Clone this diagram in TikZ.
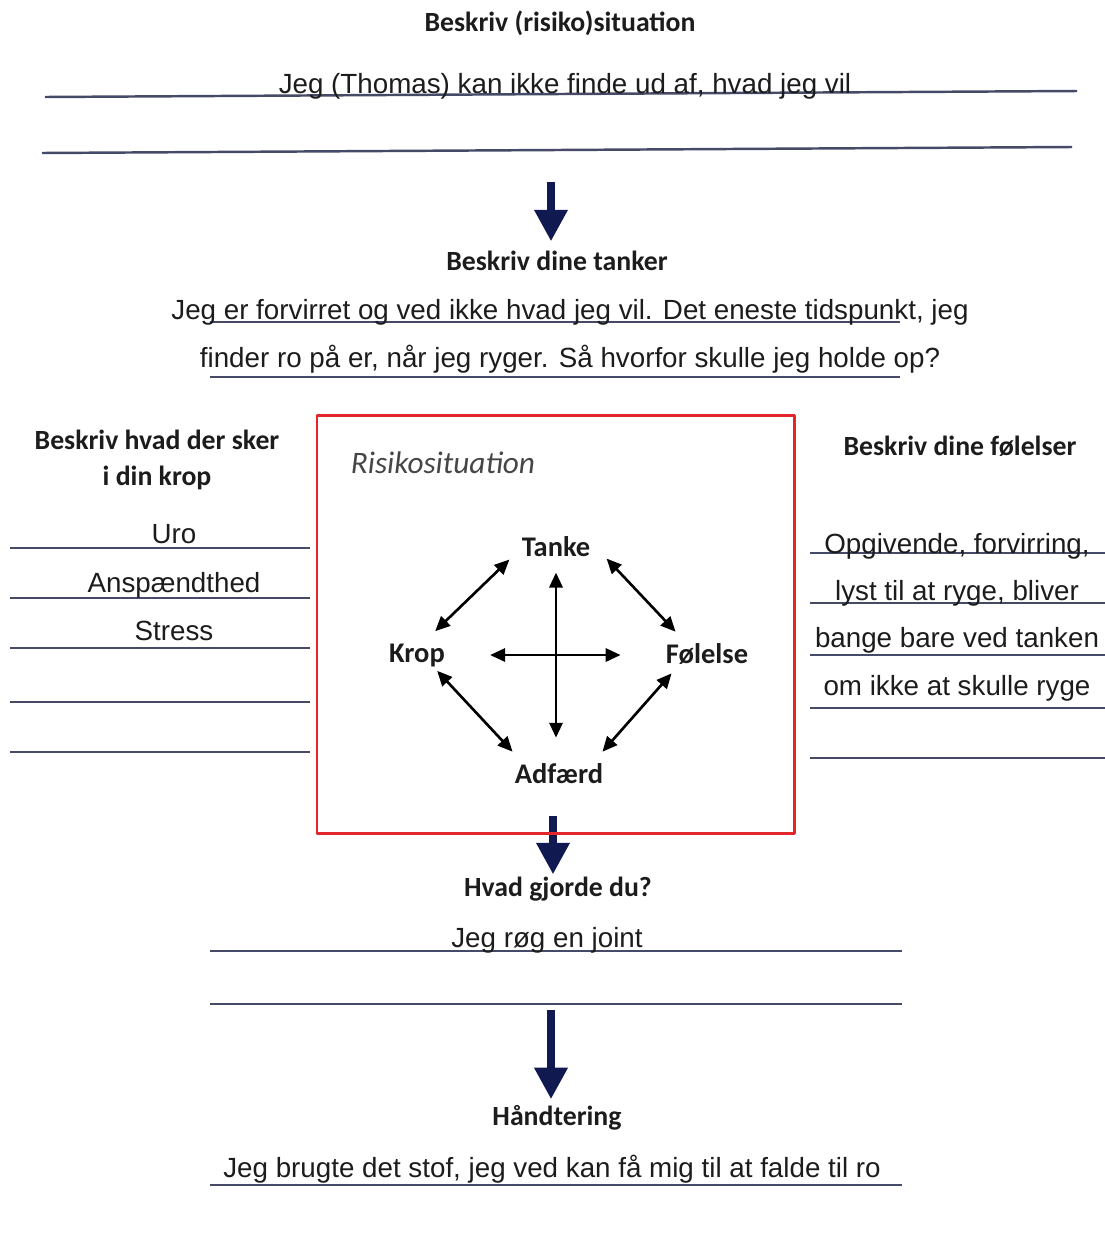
\documentclass[tikz,border=0pt]{standalone}
\usepackage{fontspec}
\setmainfont{Carlito}
\newfontfamily\answerfont{Liberation Sans}
\usetikzlibrary{arrows.meta}
\definecolor{linegray}{HTML}{454A66}
\definecolor{navyarrow}{HTML}{101A50}
\definecolor{boxred}{HTML}{E3262B}
\definecolor{risgray}{HTML}{464646}
\definecolor{inktext}{HTML}{1C1C1C}

\begin{document}
\begin{tikzpicture}[line join=round,x=0.02cm,y=-0.02cm,
		heading/.style={font=\fontsize{15.8}{19}\selectfont\bfseries,anchor=base,inner sep=0pt,text=inktext},
		answer/.style={font=\answerfont\fontsize{15.8}{19}\selectfont,anchor=base,inner sep=0pt,text=inktext},
		factor/.style={font=\fontsize{16.2}{19}\selectfont\bfseries,anchor=base,inner sep=0pt,text=inktext},
		wline/.style={line width=1.4pt,color=linegray},
		bigarr/.style={line width=4.5pt,color=navyarrow,-{Triangle[width=18pt,length=18pt]}},
		dbl/.style={line width=1.5pt,{Triangle[length=8.5pt,width=7.5pt]}-{Triangle[length=8.5pt,width=7.5pt]}}]
		\useasboundingbox (0,0) rectangle (1105,1238);
		% top: situation
		\node[heading] (hSit) at (560,31) {Beskriv (risiko)situation};
		\draw [wline] (45,97)-- (1077,91);
		\draw [wline] (42,153)-- (1072,147);
		\node[answer] (aSit) at (565,93) {Jeg (Thomas) kan ikke finde ud af, hvad jeg vil};
		\coordinate (a1) at (551,182);
		% thoughts
		\node[heading] (hTanker) at (557,270) {Beskriv dine tanker};
		\draw [bigarr,shorten >=5pt] (a1)-- (a1 |- hTanker.north);
		\draw [wline] (210,322)-- (900,322);
		\draw [wline] (210,377)-- (900,377);
		\node[answer] (aTanker1) at (570,319) {Jeg er forvirret og ved ikke hvad jeg vil. Det eneste tidspunkt, jeg};
		\node[answer] (aTanker2) at (570,367) {finder ro på er, når jeg ryger. Så hvorfor skulle jeg holde op?};
		% body
		\node[heading] (hKrop1) at (157,449) {Beskriv hvad der sker};
		\node[heading] (hKrop2) at (157,485) {i din krop};
		\foreach \y in {548,598,648,702,752}
			\draw [wline] (10,\y)-- (310,\y);
		\node[answer] (aUro) at (174,543) {Uro};
		\node[answer] (aAnsp) at (174,592) {Anspændthed};
		\node[answer] (aStress) at (174,640) {Stress};
		% feelings
		\node[heading] (hFol) at (960,455) {Beskriv dine følelser};
		\foreach \y in {553,603,655,708,758}
			\draw [wline] (810,\y)-- (1105,\y);
		\node[answer] (aFol1) at (957,553) {Opgivende, forvirring,};
		\node[answer] (aFol2) at (957,600) {lyst til at ryge, bliver};
		\node[answer] (aFol3) at (957,647) {bange bare ved tanken};
		\node[answer] (aFol4) at (957,695) {om ikke at skulle ryge};
		% risk situation box
		\coordinate (a2) at (553,816);
		\node[heading] (hGjorde) at (558,896) {Hvad gjorde du?};
		\draw [bigarr,shorten >=1pt] (a2)-- (a2 |- hGjorde.north);
		\draw [line width=1.7pt,color=boxred] (317,415) rectangle (794,833);
		\node[anchor=base,inner sep=0pt,font=\fontsize{17.8}{20}\selectfont\itshape,text=risgray] (risk) at (443,473) {Risikosituation};
		\node[factor] (tanke) at (556,556) {Tanke};
		\node[factor] (krop) at (417,662) {Krop};
		\node[factor] (folelse) at (707,663) {Følelse};
		\node[factor] (adfaerd) at (559,783) {Adfærd};
		\draw [dbl] ([shift={(-12,3)}]tanke.south west)-- ([shift={(-10,-12)}]krop.north east);
		\draw [dbl] ([shift={(16,2)}]tanke.south east)-- ([shift={(10,-11)}]folelse.north west);
		\draw [dbl] ([shift={(-8,4)}]krop.south east)-- ([shift={(-2,-11)}]adfaerd.north west);
		\draw [dbl] ([shift={(6,9)}]folelse.south west)-- ([shift={(-1,-11)}]adfaerd.north east);
		\draw [dbl,shorten <=0.32cm,shorten >=0.5cm] (tanke.south)-- (tanke.south |- adfaerd.north);
		\draw [dbl,shorten <=0.9cm,shorten >=0.9cm] (krop.east)-- (krop.east -| folelse.west);
		% what did you do
		\draw [wline] (210,951)-- (902,951);
		\draw [wline] (210,1004)-- (902,1004);
		\node[answer] (aGjorde) at (547,947) {Jeg røg en joint};
		\coordinate (a3) at (551,1010);
		\node[heading] (hHand) at (557,1125) {Håndtering};
		\draw [bigarr,shorten >=3pt] (a3)-- (a3 |- hHand.north);
		\draw [wline] (210,1185)-- (902,1185);
		\node[answer] (aHand) at (552,1177) {Jeg brugte det stof, jeg ved kan få mig til at falde til ro};
\end{tikzpicture}
\end{document}
